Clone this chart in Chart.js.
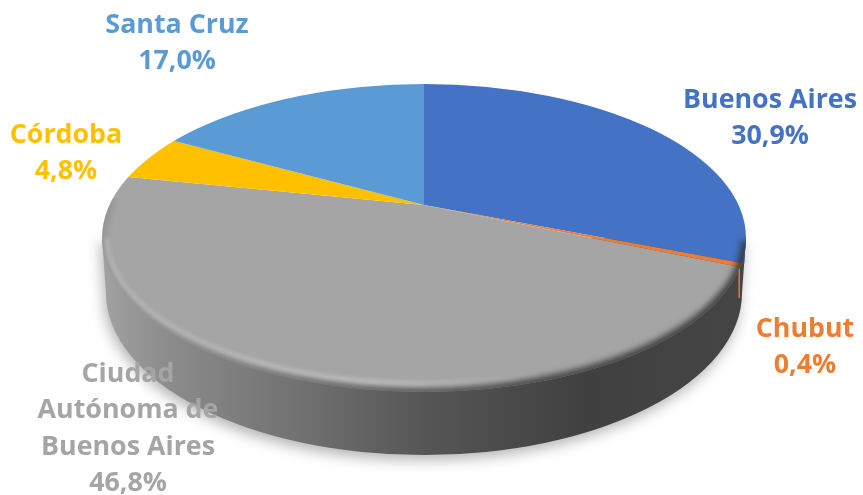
<!DOCTYPE html>
<html>
<head>
<meta charset="utf-8">
<script src="https://cdn.jsdelivr.net/npm/chart.js@4"></script>
<style>
  body { margin: 0; background: #fff; }
  canvas { display: block; }
</style>
</head>
<body>
<canvas id="pie" width="863" height="495"></canvas>
<script>
// Values, clockwise from 12 o'clock
const categories = ['Buenos Aires', 'Chubut', 'Ciudad Autónoma de Buenos Aires', 'Córdoba', 'Santa Cruz'];
const shares = [30.9, 0.4, 46.8, 4.8, 17.0];
const sliceColors = ['#4472C4', '#ED7D31', '#A5A5A5', '#FFC000', '#5B9BD5'];
const labelLines = [['Buenos Aires'], ['Chubut'], ['Ciudad', 'Autónoma de', 'Buenos Aires'], ['Córdoba'], ['Santa Cruz']];
const labelAnchors = [[770, 100], [805, 329], [128, 374], [66, 135], [177, 25]];

// Fake 3D: the wedge vertex sits above the middle of the top ellipse (perspective)
const vertex = { x: 424, y: 205, sx: 1.8, sy: 0.84 };
const topFace = { x: 424, y: 238, rx: 322, ry: 154 };
const bottomEdge = { x: 424, y: 293, rx: 318, ry: 162 };

function drawWall(ctx) {
    const wall = new Path2D();
    wall.moveTo(topFace.x - topFace.rx, topFace.y);
    wall.lineTo(bottomEdge.x - bottomEdge.rx, bottomEdge.y);
    wall.ellipse(bottomEdge.x, bottomEdge.y, bottomEdge.rx, bottomEdge.ry, 0, Math.PI, 0, true);
    wall.lineTo(topFace.x + topFace.rx, topFace.y);
    wall.closePath();

    const shade = ctx.createLinearGradient(102, 0, 746, 0);
    shade.addColorStop(0, '#a2a2a2');
    shade.addColorStop(0.1, '#8c8c8c');
    shade.addColorStop(0.3, '#727272');
    shade.addColorStop(0.5, '#565656');
    shade.addColorStop(0.75, '#404040');
    shade.addColorStop(1, '#454545');

    ctx.save();
    ctx.shadowColor = 'rgba(0,0,0,0.3)';
    ctx.shadowBlur = 14;
    ctx.shadowOffsetX = -2;
    ctx.shadowOffsetY = 5;
    ctx.fillStyle = shade;
    ctx.fill(wall);
    ctx.restore();

    // the small pieces of the blue and orange slices that show on the wall
    ctx.save();
    ctx.clip(wall);
    ctx.fillStyle = '#2f4f88';
    ctx.fillRect(741, 230, 10, 34);
    ctx.fillStyle = sliceColors[1];
    ctx.fillRect(738.5, 262, 1.4, 36);
    ctx.restore();
}

function drawRim(ctx) {
    ctx.save();
    ctx.beginPath();
    ctx.ellipse(topFace.x, topFace.y, topFace.rx, topFace.ry, 0, 0, Math.PI * 2);
    ctx.clip();

    // dark roll-off towards the right and along the lower edge
    const dark = ctx.createLinearGradient(102, 0, 746, 0);
    dark.addColorStop(0, 'rgba(120,120,120,0.35)');
    dark.addColorStop(0.35, 'rgba(90,90,90,0.7)');
    dark.addColorStop(0.7, 'rgba(60,60,60,0.95)');
    dark.addColorStop(1, 'rgba(50,50,50,0.9)');
    ctx.filter = 'blur(3px)';
    ctx.strokeStyle = dark;
    ctx.lineWidth = 9;
    ctx.beginPath();
    ctx.ellipse(topFace.x, topFace.y, topFace.rx, topFace.ry, 0, 0.02, Math.PI + 0.25);
    ctx.stroke();

    // highlight on the left half of the bevel
    const light = ctx.createLinearGradient(102, 0, 560, 0);
    light.addColorStop(0, 'rgba(205,205,205,0.55)');
    light.addColorStop(0.6, 'rgba(215,215,215,0.7)');
    light.addColorStop(1, 'rgba(215,215,215,0)');
    ctx.filter = 'blur(2px)';
    ctx.strokeStyle = light;
    ctx.lineWidth = 4;
    ctx.beginPath();
    ctx.ellipse(topFace.x, topFace.y, topFace.rx - 5, topFace.ry - 8, 0, 1.2, Math.PI);
    ctx.stroke();
    ctx.restore();
}

const tiltPlugin = {
    id: 'tilt',
    beforeDatasetsDraw(chart) {
        const ctx = chart.ctx;
        const arc = chart.getDatasetMeta(0).data[0];
        drawWall(ctx);
        ctx.save();
        ctx.beginPath();
        ctx.ellipse(topFace.x, topFace.y, topFace.rx, topFace.ry, 0, 0, Math.PI * 2);
        ctx.clip();
        ctx.translate(vertex.x, vertex.y);
        ctx.scale(vertex.sx, vertex.sy);
        ctx.translate(-arc.x, -arc.y);
    },
    afterDatasetsDraw(chart) {
        chart.ctx.restore();
        drawRim(chart.ctx);
    },
    afterDraw(chart) {
        const ctx = chart.ctx;
        ctx.save();
        ctx.font = 'bold 26.8px "Open Sans"';
        ctx.textAlign = 'center';
        ctx.textBaseline = 'middle';
        shares.forEach((share, i) => {
            const lines = labelLines[i].concat(share.toFixed(1).replace('.', ',') + '%');
            const [x, y] = labelAnchors[i];
            ctx.fillStyle = sliceColors[i];
            lines.forEach((line, n) => ctx.fillText(line, x, y + n * 36.5));
        });
        ctx.restore();
    }
};

new Chart(document.getElementById('pie'), {
    type: 'pie',
    data: {
        labels: categories,
        datasets: [{
            data: shares,
            backgroundColor: sliceColors,
            borderWidth: 0,
            clip: false
        }]
    },
    options: {
        responsive: false,
        animation: false,
        layout: { padding: 0 },
        plugins: {
            legend: { display: false },
            tooltip: { enabled: false }
        }
    },
    plugins: [tiltPlugin]
});
</script>
</body>
</html>
